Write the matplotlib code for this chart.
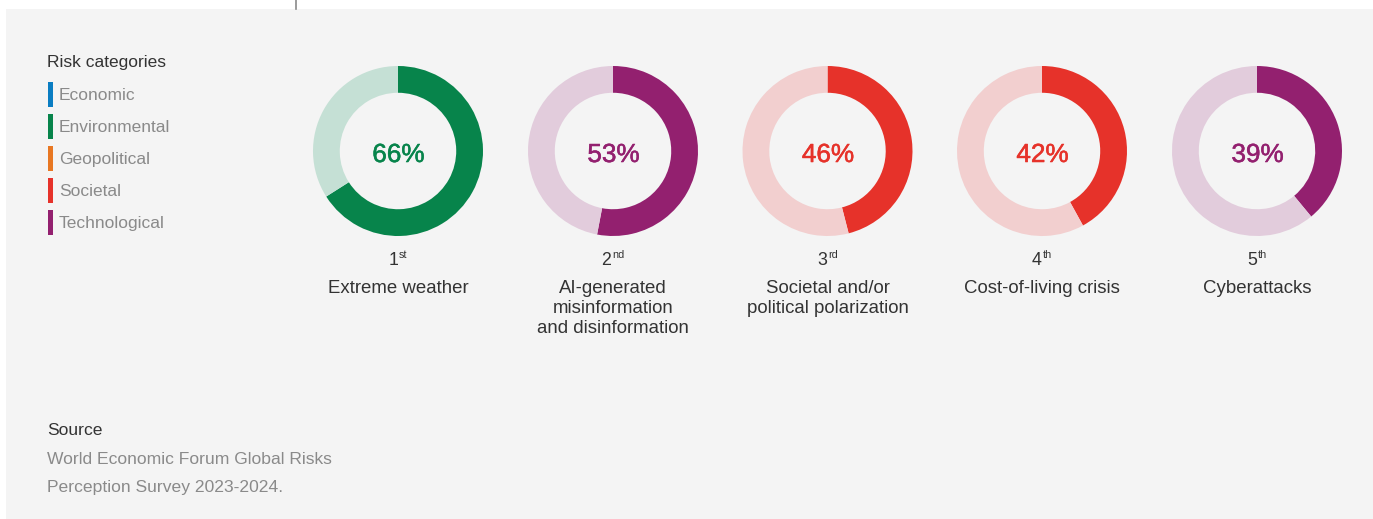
import matplotlib
matplotlib.use("Agg")
import matplotlib.pyplot as plt
import matplotlib.patheffects as pe
from matplotlib.patches import Rectangle
from matplotlib.lines import Line2D

plt.rcParams['font.family'] = ['Liberation Sans', 'DejaVu Sans']

# Top five global risks (share of respondents)
risks = ["Extreme weather",
         "AI-generated\nmisinformation\nand disinformation",
         "Societal and/or\npolitical polarization",
         "Cost-of-living crisis",
         "Cyberattacks"]
values = [66, 53, 46, 42, 39]
rank_nums = ["1", "2", "3", "4", "5"]
rank_suffix = ["st", "nd", "rd", "th", "th"]
risk_category = ["Environmental", "Technological", "Societal", "Societal", "Technological"]

categories = ["Economic", "Environmental", "Geopolitical", "Societal", "Technological"]
cat_colors = {"Economic": "#0a7dc2", "Environmental": "#07844b", "Geopolitical": "#e87722",
              "Societal": "#e6322a", "Technological": "#93206f"}
cat_light = {"Economic": "#c4dcef", "Environmental": "#c5e0d5", "Geopolitical": "#f7dcc6",
             "Societal": "#f2cfcf", "Technological": "#e2ccdc"}

source_lines = ["World Economic Forum Global Risks", "Perception Survey 2023-2024."]

W, H = 1373, 519
fig = plt.figure(figsize=(W / 100, H / 100), dpi=100, facecolor="white")


def fx(x):
    return x / W


def fy(y):
    return 1 - y / H


# background panel and small divider tick
fig.patches.append(Rectangle((fx(6), 0), 1 - fx(6), fy(9), transform=fig.transFigure,
                             facecolor="#f4f4f4", edgecolor="none", zorder=-5))
fig.lines.append(Line2D([fx(295.5), fx(295.5)], [fy(0), fy(9)], transform=fig.transFigure,
                        color="#8a8a8a", lw=1.2))

DARK = "#333333"
GREY = "#8a8a8a"

# legend
fig.text(fx(47), fy(66.5), "Risk categories", fontsize=12.5, color=DARK, va="baseline", ha="left")
for i, cat in enumerate(categories):
    yb = 100 + 32 * i
    fig.patches.append(Rectangle((fx(47.7), fy(yb + 6.5)), 5 / W, 25 / H, transform=fig.transFigure,
                                 facecolor=cat_colors[cat], edgecolor="none"))
    fig.text(fx(59), fy(yb), cat, fontsize=12.5, color=GREY, va="baseline", ha="left")

# donuts
centers = [398, 613, 827.5, 1042, 1257]
cy, R = 151, 85
renderer = fig.canvas.get_renderer()
for i, (cx, v, cat) in enumerate(zip(centers, values, risk_category)):
    ax = fig.add_axes([fx(cx - R), fy(cy + R), 2 * R / W, 2 * R / H])
    ax.pie([v, 100 - v], colors=[cat_colors[cat], cat_light[cat]], startangle=90,
           counterclock=False, radius=1.0, wedgeprops=dict(width=0.315, edgecolor="none"))
    ax.set_xlim(-1, 1)
    ax.set_ylim(-1, 1)
    ax.set_facecolor("none")
    ax.axis("off")
    fig.text(fx(cx + 0.5), fy(162), f"{v}%", fontsize=18.8, color=cat_colors[cat],
             ha="center", va="baseline",
             path_effects=[pe.withStroke(linewidth=0.4, foreground=cat_colors[cat])])

    # rank with superscript ordinal, centred as a pair
    t1 = fig.text(0, 0, rank_nums[i], fontsize=12.8, color=DARK, va="baseline", ha="left")
    t2 = fig.text(0, 0, rank_suffix[i], fontsize=7.8, color=DARK, va="baseline", ha="left")
    w1 = t1.get_window_extent(renderer).width
    w2 = t2.get_window_extent(renderer).width
    gap = 1.0
    x0 = cx - (w1 + gap + w2) / 2
    t1.set_position((fx(x0), fy(265)))
    t2.set_position((fx(x0 + w1 + gap), fy(258.5)))

    for j, line in enumerate(risks[i].split("\n")):
        fig.text(fx(cx), fy(293 + 20 * j), line, fontsize=13.4, color=DARK,
                 ha="center", va="baseline")

# source
fig.text(fx(47), fy(435), "Source", fontsize=12.6, color=DARK, va="baseline", ha="left")
for j, line in enumerate(source_lines):
    fig.text(fx(47), fy(464 + 28 * j), line, fontsize=12.6, color=GREY, va="baseline", ha="left")

fig.savefig("out.png", dpi=100, facecolor="white")
